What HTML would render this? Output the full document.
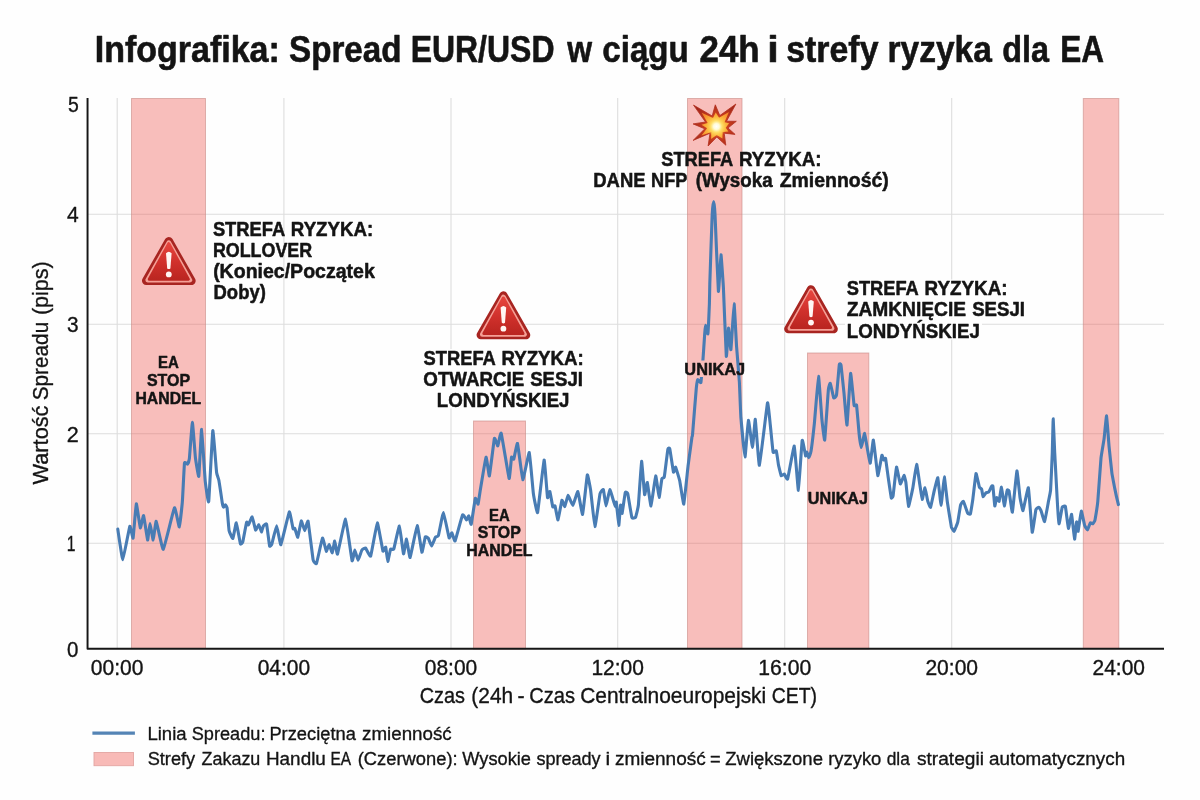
<!DOCTYPE html>
<html lang="pl">
<head>
<meta charset="utf-8">
<title>Infografika: Spread EUR/USD w ciągu 24h i strefy ryzyka dla EA</title>
<style>
html,body{margin:0;padding:0;background:#fefefe;}
body{width:1200px;height:800px;overflow:hidden;position:relative;}
svg{display:block;position:absolute;left:0;top:0;}
text{font-family:"Liberation Sans",sans-serif;fill:#141414;stroke:#141414;stroke-linejoin:round;}
.grid line{stroke:#dddddd;stroke-width:1.1;}
.band rect{fill:#ee4d46;fill-opacity:0.36;stroke:#c98a86;stroke-opacity:0.6;stroke-width:1;}
.halo rect{fill:#fefefe;}
</style>
</head>
<body>
<svg width="1200" height="800" viewBox="0 0 1200 800">
<defs>
<linearGradient id="tg" x1="0" y1="0" x2="0" y2="1">
<stop offset="0" stop-color="#e5443d"/><stop offset="0.55" stop-color="#cf302b"/><stop offset="1" stop-color="#bb2621"/>
</linearGradient>
<radialGradient id="eg" cx="0.5" cy="0.5" r="0.5">
<stop offset="0" stop-color="#ffffff"/><stop offset="0.28" stop-color="#fffbd8"/><stop offset="0.55" stop-color="#ffe16a" stop-opacity="0.9"/><stop offset="1" stop-color="#fbb83e" stop-opacity="0"/>
</radialGradient>
<radialGradient id="ex1" gradientUnits="userSpaceOnUse" cx="716.4" cy="126.5" r="27">
<stop offset="0" stop-color="#e2582a"/><stop offset="0.4" stop-color="#cc3f20"/><stop offset="1" stop-color="#9f2519"/>
</radialGradient>
<radialGradient id="ex2" gradientUnits="userSpaceOnUse" cx="716.4" cy="126.5" r="20">
<stop offset="0" stop-color="#ffe878"/><stop offset="0.4" stop-color="#fdc244"/><stop offset="0.75" stop-color="#f7952e"/><stop offset="1" stop-color="#ee7527"/>
</radialGradient>
<filter id="soft" x="-10%" y="-10%" width="120%" height="120%"><feGaussianBlur stdDeviation="0.45"/></filter>
</defs>
<rect x="0" y="0" width="1200" height="800" fill="#fefefe"/>

<g id="title">
<text y="62.25" font-size="36" font-weight="bold" stroke-width="0.6" xml:space="preserve"><tspan x="94.75" textLength="194.49" lengthAdjust="spacingAndGlyphs">Infografika: </tspan><tspan x="289.03" textLength="121.67" lengthAdjust="spacingAndGlyphs">Spread </tspan><tspan x="410.68" textLength="152.66" lengthAdjust="spacingAndGlyphs">EUR/USD </tspan><tspan x="567.20" textLength="33.68" lengthAdjust="spacingAndGlyphs">w </tspan><tspan x="602.33" textLength="95.63" lengthAdjust="spacingAndGlyphs">ciągu </tspan><tspan x="699.53" textLength="69.90" lengthAdjust="spacingAndGlyphs">24h </tspan><tspan x="767.31" textLength="22.96" lengthAdjust="spacingAndGlyphs">i </tspan><tspan x="786.26" textLength="101.65" lengthAdjust="spacingAndGlyphs">strefy </tspan><tspan x="887.54" textLength="113.65" lengthAdjust="spacingAndGlyphs">ryzyka </tspan><tspan x="1002.35" textLength="55.69" lengthAdjust="spacingAndGlyphs">dla </tspan><tspan x="1060.30" textLength="43.79" lengthAdjust="spacingAndGlyphs">EA</tspan></text>
</g>

<g class="grid">
<line x1="117.2" y1="98" x2="117.2" y2="648"/>
<line x1="283.9" y1="98" x2="283.9" y2="648"/>
<line x1="451" y1="98" x2="451" y2="648"/>
<line x1="617.7" y1="98" x2="617.7" y2="648"/>
<line x1="784.7" y1="98" x2="784.7" y2="648"/>
<line x1="951.7" y1="98" x2="951.7" y2="648"/>
<line x1="88" y1="214.3" x2="1164" y2="214.3"/>
<line x1="88" y1="324.3" x2="1164" y2="324.3"/>
<line x1="88" y1="433.8" x2="1164" y2="433.8"/>
<line x1="88" y1="543.3" x2="1164" y2="543.3"/>
</g>

<g class="band">
<rect x="131.5" y="98.5" width="74" height="550"/>
<rect x="473.5" y="421" width="52" height="228"/>
<rect x="687.5" y="98.5" width="54.5" height="550"/>
<rect x="807.5" y="353" width="61.3" height="296"/>
<rect x="1083.3" y="98.5" width="35.5" height="550"/>
</g>

<path fill="none" stroke="#487cb4" stroke-width="3.1" stroke-linejoin="round" stroke-linecap="round" d="M117.8,529.1 C118.0,530.6 122.2,559.8 122.8,559.7 C123.4,559.6 129.3,527.4 129.8,526.3 C130.3,525.2 132.8,539.2 133.1,538.1 C133.4,537.0 135.9,504.3 136.3,503.8 C136.7,503.3 139.9,527.2 140.3,527.8 C140.7,528.4 143.2,515.0 143.6,515.6 C144.0,516.2 147.3,539.6 147.6,540 C147.9,540.4 149.7,523.5 150,523.5 C150.3,523.5 152.9,540.1 153.2,540 C153.5,539.9 155.7,520.8 156.2,521.3 C156.7,521.8 162.4,550.1 163.3,549.4 C164.2,548.7 173.6,508.9 174.4,507.8 C175.2,506.7 178.9,527.2 179.3,526.9 C179.7,526.6 182.0,505.7 182.3,502.5 C182.6,499.3 184.2,465.0 184.5,463.1 C184.8,461.2 187.3,464.3 187.5,464.1 C187.7,463.9 189.2,460.5 189.4,458.4 C189.6,456.3 192.1,422.3 192.4,422.3 C192.7,422.3 195.1,454.8 195.4,457.5 C195.7,460.2 198.5,477.7 198.8,476.3 C199.1,474.9 201.3,429.1 201.6,429.4 C201.9,429.7 204.9,478.3 205.3,481.9 C205.7,485.5 208.3,504.2 208.7,501.6 C209.1,499.0 212.4,432.2 212.8,430.7 C213.2,429.2 216.3,470.0 216.6,472.5 C216.9,475.0 218.5,478.5 218.8,480 C219.1,481.5 222.0,501.1 222.2,502.5 C222.4,503.9 223.5,507.1 223.7,507.2 C223.9,507.3 225.2,504.8 225.4,504.8 C225.6,504.8 226.9,506.8 227.1,508.1 C227.3,509.4 228.8,529.1 229.1,530.6 C229.4,532.1 232.5,538.9 232.9,538.5 C233.3,538.1 235.9,522.5 236.3,522.8 C236.7,523.1 240.1,542.8 240.4,543.8 C240.7,544.8 242.5,543.0 242.8,541.9 C243.1,540.8 246.3,523.0 246.6,522.2 C246.9,521.4 248.1,525.3 248.4,525 C248.7,524.7 251.8,516.6 252.2,516.9 C252.6,517.2 255.3,529.7 255.6,530.1 C255.9,530.5 258.5,524.5 258.8,524.6 C259.1,524.7 261.2,531.8 261.4,531.9 C261.6,532.0 263.1,526.3 263.4,525.9 C263.7,525.5 266.3,523.1 266.6,524.1 C266.9,525.1 269.3,545.0 269.6,546 C269.9,547.0 271.5,544.8 271.9,543.8 C272.2,542.8 276.2,525.9 276.6,525.9 C277.1,525.9 280.3,545.4 280.9,544.7 C281.5,544.0 288.7,512.7 289.3,511.9 C289.9,511.1 292.8,528.0 293.1,528.8 C293.4,529.6 294.6,528.0 294.8,528.4 C295.0,528.8 297.5,537.6 297.8,537.2 C298.1,536.8 301.0,521.2 301.3,520.9 C301.6,520.6 304.4,530.6 304.7,530.6 C305.0,530.6 307.7,519.8 308.1,521.3 C308.5,522.8 312.7,557.6 313.1,559.7 C313.5,561.8 316.0,564.5 316.5,563.4 C317.0,562.3 322.0,538.7 322.5,538.1 C323.0,537.5 326.0,551.0 326.3,551.3 C326.6,551.6 328.8,544.3 329.1,544.4 C329.4,544.5 332.0,553.0 332.3,552.8 C332.6,552.6 334.4,540.9 334.7,541 C335.0,541.1 337.0,555.2 337.5,554.1 C338.0,553.0 344.9,518.8 345.6,519.1 C346.3,519.4 351.6,559.2 352.1,560.7 C352.6,562.2 354.5,550.0 354.8,550 C355.1,550.0 357.7,560.3 358.1,560.3 C358.5,560.3 361.5,550.6 361.9,550 C362.3,549.4 365.2,547.8 365.6,548.1 C366.0,548.4 370.1,557.3 370.7,556 C371.3,554.7 376.7,523.1 377.3,522.8 C377.9,522.5 382.5,549.7 382.9,550.9 C383.3,552.1 385.5,546.7 385.7,547.2 C385.9,547.7 387.6,561.2 387.8,561.3 C388.0,561.4 390.3,549.7 390.6,549.1 C390.9,548.5 393.4,550.3 393.8,549.1 C394.2,547.9 398.9,525.8 399.4,526 C399.9,526.2 403.1,553.1 403.5,553.8 C403.9,554.5 406.2,538.9 406.5,539.1 C406.8,539.3 409.6,558.2 410.1,557.5 C410.6,556.8 416.6,525.9 417.2,525.6 C417.8,525.3 421.5,551.7 421.9,552.3 C422.3,552.9 425.0,537.6 425.3,536.9 C425.6,536.2 428.1,537.9 428.4,538.4 C428.7,538.9 431.2,546.0 431.6,545.9 C432.0,545.8 435.1,537.8 435.4,537.3 C435.7,536.8 438.0,536.8 438.4,535.6 C438.8,534.4 442.9,512.4 443.4,512.5 C443.9,512.6 448.7,536.8 449.1,537.8 C449.5,538.8 451.6,532.6 451.9,532.8 C452.2,533.0 454.6,541.9 455.1,541 C455.6,540.1 462.0,515.8 462.6,514.8 C463.2,513.8 466.2,519.9 466.5,520 C466.8,520.1 468.6,515.7 468.8,515.9 C469.0,516.1 470.9,525.2 471.2,524.3 C471.5,523.4 475.0,499.4 475.3,498.4 C475.6,497.4 477.9,504.4 478.1,504.1 C478.3,503.8 479.6,494.2 480,491.9 C480.4,489.6 485.5,458.0 486,457.2 C486.5,456.4 489.0,476.8 489.4,475.9 C489.8,475.0 494.0,439.9 494.4,438.4 C494.8,436.9 497.5,446.2 497.8,445.9 C498.1,445.6 500.6,431.6 501.2,433.2 C501.8,434.8 508.6,477.2 509.1,478.4 C509.6,479.6 511.3,458.2 511.5,457.2 C511.7,456.2 513.5,459.8 513.8,459.1 C514.1,458.4 517.0,442.5 517.5,443.5 C518.0,444.5 522.2,479.2 522.8,479.7 C523.4,480.1 528.8,451.8 529.3,452.5 C529.8,453.2 533.0,490.8 533.4,493.8 C533.8,496.8 537.1,514.2 537.6,512.5 C538.1,510.8 543.6,460.8 544.1,460 C544.6,459.2 547.2,495.9 547.5,497.5 C547.8,499.1 549.6,491.0 549.9,491.5 C550.2,492.0 552.5,506.2 552.8,506.9 C553.1,507.6 554.7,505.2 555,505.9 C555.3,506.6 557.7,520.3 558,520 C558.3,519.7 561.6,501.0 561.9,500.3 C562.2,499.6 564.5,506.8 564.8,506.5 C565.1,506.2 567.7,495.4 568.1,495.3 C568.5,495.2 572.3,505.6 572.8,505.4 C573.3,505.2 577.4,491.1 577.9,491.5 C578.4,491.9 582.1,515.2 582.6,514.4 C583.1,513.6 586.9,476.2 587.3,475 C587.7,473.8 590.2,487.4 590.6,490 C591.0,492.6 594.4,526.4 594.9,526.6 C595.4,526.8 599.6,495.7 600,493.8 C600.4,491.9 603.1,489.0 603.4,489.6 C603.7,490.2 605.7,505.9 606,505.9 C606.3,505.9 609.4,489.8 609.8,489.6 C610.2,489.4 613.8,501.9 614.1,502.8 C614.4,503.7 615.3,506.9 615.4,506.9 C615.5,506.9 616.1,501.3 616.3,502.2 C616.5,503.1 618.6,525.2 618.8,525.3 C619.0,525.4 620.4,505.6 620.6,505 C620.8,504.4 621.9,514.0 622.1,513.4 C622.3,512.8 625.0,493.4 625.3,492.4 C625.6,491.4 627.5,492.5 627.8,493.8 C628.1,495.1 631.5,516.4 631.9,517.6 C632.3,518.8 635.3,517.8 635.6,517.2 C635.9,516.6 638.1,507.8 638.4,505 C638.7,502.2 641.3,461.8 641.6,461.3 C641.9,460.8 644.3,493.6 644.6,494.7 C644.9,495.8 647.0,481.9 647.3,482.5 C647.6,483.1 650.6,506.2 651,505.9 C651.4,505.6 655.3,476.3 655.7,475.9 C656.1,475.5 658.8,497.4 659.1,497.5 C659.4,497.6 661.6,479.8 661.9,478.8 C662.2,477.8 664.0,478.4 664.3,476.9 C664.6,475.4 667.6,450.5 667.9,449.1 C668.2,447.7 669.5,447.6 669.8,448.8 C670.1,450.0 673.2,471.3 673.5,472.2 C673.8,473.1 675.3,466.7 675.6,467.1 C675.9,467.5 679.3,478.8 679.7,480.6 C680.1,482.5 683.4,504.9 683.8,504.1 C684.2,503.4 687.7,468.9 688.1,465.6 C688.5,462.3 691.7,439.0 691.9,437.5 C692.1,436.0 692.3,437.5 692.5,435 C692.7,432.5 696.0,390.9 696.3,388.1 C696.6,385.3 697.6,380.0 697.8,379.7 C698.0,379.4 700.6,383.4 700.9,382.5 C701.1,381.6 702.6,364.3 702.8,361.9 C703.0,359.5 704.6,335.6 704.7,333.8 C704.8,332.0 705.4,325.3 705.6,325.3 C705.8,325.3 707.7,334.9 707.9,333.8 C708.1,332.7 709.3,306.3 709.4,303.8 C709.5,301.3 709.7,288.3 709.8,283.8 C709.9,279.3 712.0,218.5 712.2,214.4 C712.4,210.3 713.6,201.6 713.7,201.6 C713.8,201.6 714.8,209.9 715,214.4 C715.2,218.9 718.1,289.3 718.4,291.3 C718.7,293.3 720.8,254.9 721,254.7 C721.2,254.5 723.1,282.4 723.4,287.5 C723.7,292.6 726.0,354.3 726.3,356.3 C726.6,358.3 728.3,328.4 728.5,328.1 C728.7,327.8 730.6,350.9 730.9,349.7 C731.2,348.5 733.8,303.9 734.1,303.8 C734.4,303.7 736.3,343.0 736.6,346.9 C736.9,350.8 739.2,379.0 739.4,382.5 C739.6,386.0 740.6,413.8 740.9,417.5 C741.2,421.2 744.6,456.8 745,456.9 C745.4,457.0 748.0,420.8 748.4,420.3 C748.8,419.8 752.2,447.5 752.5,447.5 C752.8,447.5 755.0,418.5 755.3,419.4 C755.6,420.3 758.8,466.1 759.4,465.3 C760.0,464.5 767.0,404.9 767.5,402.9 C768.0,400.9 770.0,422.5 770.3,425 C770.6,427.5 772.8,450.9 773.1,452.2 C773.4,453.5 776.0,450.3 776.3,450.9 C776.6,451.5 778.2,463.2 778.4,464.4 C778.6,465.6 780.9,475.1 781.2,475.6 C781.5,476.1 784.1,473.9 784.4,474.1 C784.7,474.3 787.1,480.4 787.6,479 C788.1,477.6 793.8,445.4 794.3,446 C794.8,446.6 798.0,490.6 798.4,490.3 C798.8,490.0 801.8,442.1 802.2,440.4 C802.6,438.7 805.4,455.3 805.6,455.9 C805.8,456.5 806.7,452.1 806.9,452.2 C807.1,452.3 808.6,457.8 808.8,457.8 C809.0,457.8 810.7,453.0 811,451.3 C811.3,449.6 814.0,426.9 814.4,423.1 C814.8,419.4 818.1,376.5 818.5,376.3 C818.9,376.1 821.6,416.2 821.9,419.4 C822.2,422.6 824.4,441.5 824.7,440 C825.0,438.5 828.1,392.2 828.4,389.4 C828.7,386.6 830.0,383.0 830.3,383.4 C830.6,383.8 833.4,397.2 833.7,397.8 C834.0,398.4 836.2,396.7 836.5,395 C836.8,393.3 839.1,366.1 839.3,364.6 C839.5,363.1 840.8,363.6 841,365 C841.2,366.4 843.7,390.1 844,393.1 C844.3,396.1 846.7,426.0 847,425 C847.3,424.0 850.2,374.4 850.6,373.4 C851.0,372.4 853.8,403.7 854.1,405.3 C854.4,406.9 856.4,403.9 856.6,405.3 C856.8,406.7 858.8,430.4 859,432.5 C859.2,434.6 861.0,447.5 861.3,447.5 C861.6,447.5 864.3,433.2 864.6,433.4 C864.9,433.6 867.5,449.8 867.8,451.3 C868.1,452.8 870.0,463.7 870.3,463.1 C870.6,462.5 873.0,439.4 873.4,440 C873.8,440.6 877.4,474.8 877.8,475.6 C878.2,476.4 881.6,456.2 881.9,455.4 C882.2,454.6 883.6,459.8 883.8,460 C884.0,460.2 885.4,457.6 885.6,458.5 C885.8,459.4 888.1,476.8 888.4,478.8 C888.7,480.8 891.1,497.1 891.3,497.9 C891.5,498.7 892.8,497.1 893.1,495.6 C893.4,494.1 896.1,467.7 896.5,467.1 C896.9,466.5 899.9,483.6 900.3,484 C900.7,484.4 903.7,475.5 904,475.4 C904.3,475.3 905.7,480.9 905.9,482.5 C906.1,484.1 908.2,506.2 908.5,506.5 C908.8,506.8 912.4,490.2 912.8,488.1 C913.2,486.0 916.2,464.5 916.6,464.3 C917.0,464.1 919.5,482.6 919.8,484.4 C920.1,486.2 921.9,499.2 922.2,499.4 C922.5,499.6 924.7,487.7 925,487.8 C925.3,487.9 927.5,500.3 927.8,501.3 C928.1,502.3 930.3,507.9 930.6,507.3 C930.9,506.7 934.0,491.5 934.4,490 C934.8,488.5 937.5,477.0 937.8,477.8 C938.1,478.6 940.8,505.4 941.1,505.4 C941.4,505.4 944.0,477.0 944.3,476.9 C944.6,476.8 947.1,500.6 947.5,503.1 C947.9,505.6 951.0,525.2 951.3,526.6 C951.6,528.0 953.8,531.5 954.1,531.3 C954.4,531.1 957.5,523.2 957.8,521.9 C958.1,520.6 960.3,506.0 960.6,505 C960.9,504.0 963.0,500.9 963.4,501.3 C963.8,501.7 967.4,512.8 967.8,513.4 C968.1,514.0 970.1,514.5 970.4,513.8 C970.6,513.1 972.5,501.4 972.8,499.4 C973.1,497.4 975.7,474.1 976,473.5 C976.3,472.9 979.1,486.4 979.4,487.2 C979.7,488.0 981.4,488.6 981.6,489.1 C981.8,489.6 982.9,496.4 983.1,496.6 C983.3,496.8 985.6,493.0 985.9,492.8 C986.2,492.6 988.5,492.2 988.8,491.9 C989.1,491.6 991.4,486.6 991.6,486.3 C991.8,486.0 992.7,485.3 992.9,486.3 C993.1,487.3 994.6,505.3 994.8,505.9 C995.0,506.5 996.4,497.7 996.6,497.5 C996.8,497.3 998.9,501.8 999.1,501.3 C999.3,500.8 1001.2,487.0 1001.5,487.2 C1001.8,487.4 1004.0,505.7 1004.3,505.9 C1004.6,506.1 1006.9,491.1 1007.1,490.4 C1007.3,489.6 1008.7,489.8 1009,490.9 C1009.3,492.0 1012.0,513.1 1012.4,512.1 C1012.8,511.1 1016.5,471.6 1016.9,470.9 C1017.3,470.2 1019.7,495.5 1020,497.5 C1020.3,499.5 1022.6,511.1 1023,510.6 C1023.4,510.1 1027.9,486.7 1028.4,487.8 C1028.9,488.9 1031.8,531.1 1032.2,532.2 C1032.6,533.3 1035.6,510.9 1035.9,509.7 C1036.2,508.5 1038.5,507.3 1038.8,507.3 C1039.1,507.3 1040.7,509.9 1041,510.6 C1041.3,511.3 1044.2,522.0 1044.6,521.5 C1045.0,521.0 1048.2,502.9 1048.5,501.3 C1048.8,499.7 1050.4,492.4 1050.6,490 C1050.8,487.6 1052.2,456.1 1052.3,452.5 C1052.4,448.9 1053.1,418.8 1053.2,418.8 C1053.3,418.8 1054.5,448.6 1054.7,452.5 C1054.9,456.4 1056.9,493.9 1057.1,497.5 C1057.3,501.1 1058.7,523.3 1059,523.8 C1059.3,524.3 1061.9,508.2 1062.2,507.3 C1062.5,506.4 1065.1,505.4 1065.4,506.5 C1065.7,507.6 1068.1,528.0 1068.4,528.4 C1068.7,528.8 1071.3,513.9 1071.6,514.4 C1071.9,514.9 1074.3,538.7 1074.6,539.1 C1074.8,539.5 1076.4,522.3 1076.6,521.9 C1076.8,521.5 1077.9,531.8 1078.1,531.3 C1078.3,530.8 1081.0,511.3 1081.3,511 C1081.6,510.7 1084.4,524.7 1084.7,525.6 C1085.0,526.5 1087.2,530.0 1087.5,529.9 C1087.8,529.8 1090.0,523.1 1090.3,522.8 C1090.6,522.5 1092.6,523.9 1092.8,523.8 C1093.0,523.7 1094.8,521.1 1095,520 C1095.2,518.9 1097.5,504.4 1097.8,501.3 C1098.1,498.2 1100.7,461.2 1101,458.1 C1101.3,455.0 1103.7,441.5 1104,439.4 C1104.3,437.3 1106.3,415.5 1106.6,415.9 C1106.9,416.3 1108.8,444.0 1109.1,446.9 C1109.4,449.8 1111.6,471.0 1111.9,473.1 C1112.2,475.2 1114.4,486.5 1114.7,488.1 C1115.0,489.7 1118.2,503.8 1118.4,504.6"/>

<g class="halo">
<rect x="421" y="349" width="164" height="17.5"/>
<rect x="421" y="366" width="164" height="21.5"/>
<rect x="435" y="387" width="136" height="21.5"/>
<rect x="845" y="279.5" width="164" height="17.5"/>
<rect x="845" y="297" width="182" height="21.5"/>
<rect x="845" y="318.5" width="137" height="21"/>
<rect x="697.5" y="360.5" width="12" height="16.5" style="fill:#f8bfbc"/>
</g>

<g>
<path d="M87.55,97.9 V648.75 H1164" fill="none" stroke="#161616" stroke-width="1.95" stroke-linejoin="round"/>
</g>

<g id="ticks">
<text y="111.75" font-size="21.3" stroke-width="0.35" xml:space="preserve"><tspan x="67.89" textLength="10.79" lengthAdjust="spacingAndGlyphs">5</tspan></text>
<text y="222.3" font-size="21.3" stroke-width="0.35" xml:space="preserve"><tspan x="67.07" textLength="11.70" lengthAdjust="spacingAndGlyphs">4</tspan></text>
<text y="331.75" font-size="21.3" stroke-width="0.35" xml:space="preserve"><tspan x="66.95" textLength="11.59" lengthAdjust="spacingAndGlyphs">3</tspan></text>
<text y="441.55" font-size="21.3" stroke-width="0.35" xml:space="preserve"><tspan x="66.76" textLength="12.01" lengthAdjust="spacingAndGlyphs">2</tspan></text>
<text y="550.8" font-size="21.3" stroke-width="0.35" xml:space="preserve"><tspan x="66.79" textLength="8.74" lengthAdjust="spacingAndGlyphs">1</tspan></text>
<text y="656.5" font-size="21.3" stroke-width="0.35" xml:space="preserve"><tspan x="66.96" textLength="11.41" lengthAdjust="spacingAndGlyphs">0</tspan></text>
<text y="674.6" font-size="21.6" stroke-width="0.35" xml:space="preserve"><tspan x="90.75" textLength="52.64" lengthAdjust="spacingAndGlyphs">00:00</tspan></text>
<text y="674.6" font-size="21.6" stroke-width="0.35" xml:space="preserve"><tspan x="257.65" textLength="52.44" lengthAdjust="spacingAndGlyphs">04:00</tspan></text>
<text y="674.6" font-size="21.6" stroke-width="0.35" xml:space="preserve"><tspan x="424.75" textLength="52.44" lengthAdjust="spacingAndGlyphs">08:00</tspan></text>
<text y="674.6" font-size="21.6" stroke-width="0.35" xml:space="preserve"><tspan x="591.39" textLength="52.50" lengthAdjust="spacingAndGlyphs">12:00</tspan></text>
<text y="674.6" font-size="21.6" stroke-width="0.35" xml:space="preserve"><tspan x="758.33" textLength="52.97" lengthAdjust="spacingAndGlyphs">16:00</tspan></text>
<text y="674.6" font-size="21.6" stroke-width="0.35" xml:space="preserve"><tspan x="925.39" textLength="52.71" lengthAdjust="spacingAndGlyphs">20:00</tspan></text>
<text y="674.6" font-size="21.6" stroke-width="0.35" xml:space="preserve"><tspan x="1092.59" textLength="52.40" lengthAdjust="spacingAndGlyphs">24:00</tspan></text>
</g>
<g id="xtitle">
<text y="703.3" font-size="21.3" stroke-width="0.35" xml:space="preserve"><tspan x="419.72" textLength="50.80" lengthAdjust="spacingAndGlyphs">Czas </tspan><tspan x="471.36" textLength="47.54" lengthAdjust="spacingAndGlyphs">(24h </tspan><tspan x="517.57" textLength="13.02" lengthAdjust="spacingAndGlyphs">- </tspan><tspan x="529.21" textLength="51.37" lengthAdjust="spacingAndGlyphs">Czas </tspan><tspan x="580.18" textLength="191.87" lengthAdjust="spacingAndGlyphs">Centralnoeuropejski </tspan><tspan x="771.74" textLength="45.34" lengthAdjust="spacingAndGlyphs">CET)</tspan></text>
</g>
<g id="ytitle">
<text transform="translate(48.3,484.5) rotate(-90)" y="0" font-size="22.7" stroke-width="0.35" xml:space="preserve"><tspan x="0.00" textLength="85.04" lengthAdjust="spacingAndGlyphs">Wartość </tspan><tspan x="84.24" textLength="84.21" lengthAdjust="spacingAndGlyphs">Spreadu </tspan><tspan x="169.39" textLength="53.78" lengthAdjust="spacingAndGlyphs">(pips)</tspan></text>
</g>

<g>
<path d="M168.8,241.2 L191.45,280.8 L146.15,280.8 Z" fill="#a82521" stroke="#a82521" stroke-width="8.4" stroke-linejoin="round"/>
<path d="M168.8,242.6 L189.95,280.1 L147.65,280.1 Z" fill="#f5a096" stroke="#f5a096" stroke-width="4.6" stroke-linejoin="round"/>
<path d="M168.8,243.8 L188.25,279.2 L149.35,279.2 Z" fill="url(#tg)" stroke="url(#tg)" stroke-width="3.2" stroke-linejoin="round"/>
<path d="M166,253.2 Q168.8,250.2 171.6,253.2 L170.4,268.4 Q168.8,269.8 167.2,268.4 Z" fill="#fff6f3"/>
<circle cx="168.8" cy="274.4" r="2.9" fill="#fff6f3"/>
</g>
<g>
<path d="M503.4,295.5 L526.05,335.1 L480.75,335.1 Z" fill="#a82521" stroke="#a82521" stroke-width="8.4" stroke-linejoin="round"/>
<path d="M503.4,296.9 L524.55,334.4 L482.25,334.4 Z" fill="#f5a096" stroke="#f5a096" stroke-width="4.6" stroke-linejoin="round"/>
<path d="M503.4,298.1 L522.85,333.5 L483.95,333.5 Z" fill="url(#tg)" stroke="url(#tg)" stroke-width="3.2" stroke-linejoin="round"/>
<path d="M500.6,307.5 Q503.4,304.5 506.2,307.5 L505,322.7 Q503.4,324.1 501.8,322.7 Z" fill="#fff6f3"/>
<circle cx="503.4" cy="328.7" r="2.9" fill="#fff6f3"/>
</g>
<g>
<path d="M811,289.4 L833.65,329.1 L788.35,329.1 Z" fill="#a82521" stroke="#a82521" stroke-width="8.4" stroke-linejoin="round"/>
<path d="M811,290.8 L832.15,328.4 L789.85,328.4 Z" fill="#f5a096" stroke="#f5a096" stroke-width="4.6" stroke-linejoin="round"/>
<path d="M811,292 L830.45,327.5 L791.55,327.5 Z" fill="url(#tg)" stroke="url(#tg)" stroke-width="3.2" stroke-linejoin="round"/>
<path d="M808.2,301.4 Q811,298.4 813.8,301.4 L812.6,316.6 Q811,318 809.4,316.6 Z" fill="#fff6f3"/>
<circle cx="811" cy="322.6" r="2.9" fill="#fff6f3"/>
</g>

<g filter="url(#soft)">
<polygon points="693.5,105.1 712.2,116.0 715.3,104.8 719.8,115.6 735.9,104.0 726.5,121.2 736.3,121.3 728.0,128.0 735.1,134.4 724.2,133.2 725.8,145.2 716.8,137.0 708.1,146.0 710.0,133.2 693.1,140.4 704.8,128.8 693.1,123.9 705.5,122.0" fill="url(#ex1)" stroke="#b2301e" stroke-width="0.8" stroke-linejoin="round"/>
<polygon points="701.7,112.8 713.0,118.1 715.7,112.6 719.1,117.8 728.9,112.1 724.5,122.3 729.1,123.2 725.7,127.7 728.4,131.6 722.6,131.9 722.4,138.5 716.7,134.9 711.1,139.0 711.3,131.9 701.5,135.4 707.1,128.3 701.5,124.8 707.7,122.9" fill="url(#ex2)"/>
<circle cx="716.4" cy="126.5" r="10.5" fill="url(#eg)"/>
</g>

<g id="ann">
<text y="235.6" font-size="19.6" font-weight="bold" stroke-width="0.5" xml:space="preserve"><tspan x="212.89" textLength="76.81" lengthAdjust="spacingAndGlyphs">STREFA </tspan><tspan x="290.85" textLength="82.27" lengthAdjust="spacingAndGlyphs">RYZYKA:</tspan></text>
<text y="256.55" font-size="19.6" font-weight="bold" stroke-width="0.5" xml:space="preserve"><tspan x="212.89" textLength="99.29" lengthAdjust="spacingAndGlyphs">ROLLOVER</tspan></text>
<text y="277.75" font-size="19.6" font-weight="bold" stroke-width="0.5" xml:space="preserve"><tspan x="213.14" textLength="161.62" lengthAdjust="spacingAndGlyphs">(Koniec/Początek</tspan></text>
<text y="299.05" font-size="19.6" font-weight="bold" stroke-width="0.5" xml:space="preserve"><tspan x="213.56" textLength="52.28" lengthAdjust="spacingAndGlyphs">Doby)</tspan></text>
<text y="364.6" font-size="19.6" font-weight="bold" stroke-width="0.5" xml:space="preserve"><tspan x="423.49" textLength="76.81" lengthAdjust="spacingAndGlyphs">STREFA </tspan><tspan x="501.45" textLength="82.37" lengthAdjust="spacingAndGlyphs">RYZYKA:</tspan></text>
<text y="385.55" font-size="19.6" font-weight="bold" stroke-width="0.5" xml:space="preserve"><tspan x="423.32" textLength="106.14" lengthAdjust="spacingAndGlyphs">OTWARCIE </tspan><tspan x="530.18" textLength="52.83" lengthAdjust="spacingAndGlyphs">SESJI</tspan></text>
<text y="406.55" font-size="19.6" font-weight="bold" stroke-width="0.5" xml:space="preserve"><tspan x="436.85" textLength="132.63" lengthAdjust="spacingAndGlyphs">LONDYŃSKIEJ</tspan></text>
<text y="165.55" font-size="19.6" font-weight="bold" stroke-width="0.5" xml:space="preserve"><tspan x="661.19" textLength="76.49" lengthAdjust="spacingAndGlyphs">STREFA </tspan><tspan x="739.04" textLength="82.57" lengthAdjust="spacingAndGlyphs">RYZYKA:</tspan></text>
<text y="186.95" font-size="19.6" font-weight="bold" stroke-width="0.5" xml:space="preserve"><tspan x="593.26" textLength="57.36" lengthAdjust="spacingAndGlyphs">DANE </tspan><tspan x="651.07" textLength="40.97" lengthAdjust="spacingAndGlyphs">NFP </tspan><tspan x="695.86" textLength="81.92" lengthAdjust="spacingAndGlyphs">(Wysoka </tspan><tspan x="779.67" textLength="109.13" lengthAdjust="spacingAndGlyphs">Zmienność)</tspan></text>
<text y="294.75" font-size="19.6" font-weight="bold" stroke-width="0.5" xml:space="preserve"><tspan x="846.69" textLength="76.49" lengthAdjust="spacingAndGlyphs">STREFA </tspan><tspan x="924.54" textLength="83.09" lengthAdjust="spacingAndGlyphs">RYZYKA:</tspan></text>
<text y="316.25" font-size="19.6" font-weight="bold" stroke-width="0.5" xml:space="preserve"><tspan x="846.67" textLength="124.73" lengthAdjust="spacingAndGlyphs">ZAMKNIĘCIE </tspan><tspan x="972.18" textLength="52.83" lengthAdjust="spacingAndGlyphs">SESJI</tspan></text>
<text y="337.75" font-size="19.6" font-weight="bold" stroke-width="0.5" xml:space="preserve"><tspan x="846.84" textLength="133.14" lengthAdjust="spacingAndGlyphs">LONDYŃSKIEJ</tspan></text>
</g>
<g id="zone">
<text y="368.3" font-size="16.6" font-weight="bold" stroke-width="0.5" xml:space="preserve"><tspan x="158.00" textLength="20.81" lengthAdjust="spacingAndGlyphs">EA</tspan></text>
<text y="386" font-size="16.6" font-weight="bold" stroke-width="0.5" xml:space="preserve"><tspan x="146.94" textLength="43.14" lengthAdjust="spacingAndGlyphs">STOP</tspan></text>
<text y="403.85" font-size="16.6" font-weight="bold" stroke-width="0.5" xml:space="preserve"><tspan x="135.46" textLength="65.73" lengthAdjust="spacingAndGlyphs">HANDEL</tspan></text>
<text y="520.55" font-size="16.6" font-weight="bold" stroke-width="0.5" xml:space="preserve"><tspan x="489.05" textLength="20.65" lengthAdjust="spacingAndGlyphs">EA</tspan></text>
<text y="538.25" font-size="16.6" font-weight="bold" stroke-width="0.5" xml:space="preserve"><tspan x="477.84" textLength="42.93" lengthAdjust="spacingAndGlyphs">STOP</tspan></text>
<text y="555.95" font-size="16.6" font-weight="bold" stroke-width="0.5" xml:space="preserve"><tspan x="466.20" textLength="66.29" lengthAdjust="spacingAndGlyphs">HANDEL</tspan></text>
<text y="374.85" font-size="16.6" font-weight="bold" stroke-width="0.5" xml:space="preserve"><tspan x="684.34" textLength="60.84" lengthAdjust="spacingAndGlyphs">UNIKAJ</tspan></text>
<text y="503.5" font-size="16.6" font-weight="bold" stroke-width="0.5" xml:space="preserve"><tspan x="807.85" textLength="60.17" lengthAdjust="spacingAndGlyphs">UNIKAJ</tspan></text>
</g>

<g id="legend">
<line x1="92.4" y1="733.2" x2="134.9" y2="733.2" stroke="#5484b5" stroke-width="3.3"/>
<rect x="94" y="752.5" width="39.5" height="13.2" fill="#f8bab7" stroke="#e3a5a2" stroke-width="0.9"/>
<text y="739.8" font-size="19.1" stroke-width="0.35" xml:space="preserve"><tspan x="147.41" textLength="44.30" lengthAdjust="spacingAndGlyphs">Linia </tspan><tspan x="191.77" textLength="78.71" lengthAdjust="spacingAndGlyphs">Spreadu: </tspan><tspan x="269.42" textLength="91.54" lengthAdjust="spacingAndGlyphs">Przeciętna </tspan><tspan x="362.04" textLength="89.68" lengthAdjust="spacingAndGlyphs">zmienność</tspan></text>
<text y="765.1" font-size="19.1" stroke-width="0.35" xml:space="preserve"><tspan x="147.66" textLength="52.58" lengthAdjust="spacingAndGlyphs">Strefy </tspan><tspan x="201.53" textLength="63.80" lengthAdjust="spacingAndGlyphs">Zakazu </tspan><tspan x="265.98" textLength="65.13" lengthAdjust="spacingAndGlyphs">Handlu </tspan><tspan x="330.52" textLength="24.07" lengthAdjust="spacingAndGlyphs">EA </tspan><tspan x="357.74" textLength="104.95" lengthAdjust="spacingAndGlyphs">(Czerwone): </tspan><tspan x="462.30" textLength="73.78" lengthAdjust="spacingAndGlyphs">Wysokie </tspan><tspan x="536.38" textLength="69.27" lengthAdjust="spacingAndGlyphs">spready </tspan><tspan x="605.52" textLength="10.50" lengthAdjust="spacingAndGlyphs">i </tspan><tspan x="614.94" textLength="96.08" lengthAdjust="spacingAndGlyphs">zmienność </tspan><tspan x="710.10" textLength="15.78" lengthAdjust="spacingAndGlyphs">= </tspan><tspan x="725.22" textLength="102.86" lengthAdjust="spacingAndGlyphs">Zwiększone </tspan><tspan x="828.18" textLength="58.29" lengthAdjust="spacingAndGlyphs">ryzyko </tspan><tspan x="886.69" textLength="27.96" lengthAdjust="spacingAndGlyphs">dla </tspan><tspan x="916.97" textLength="72.28" lengthAdjust="spacingAndGlyphs">strategii </tspan><tspan x="988.94" textLength="136.18" lengthAdjust="spacingAndGlyphs">automatycznych</tspan></text>
</g>
</svg>
</body>
</html>
